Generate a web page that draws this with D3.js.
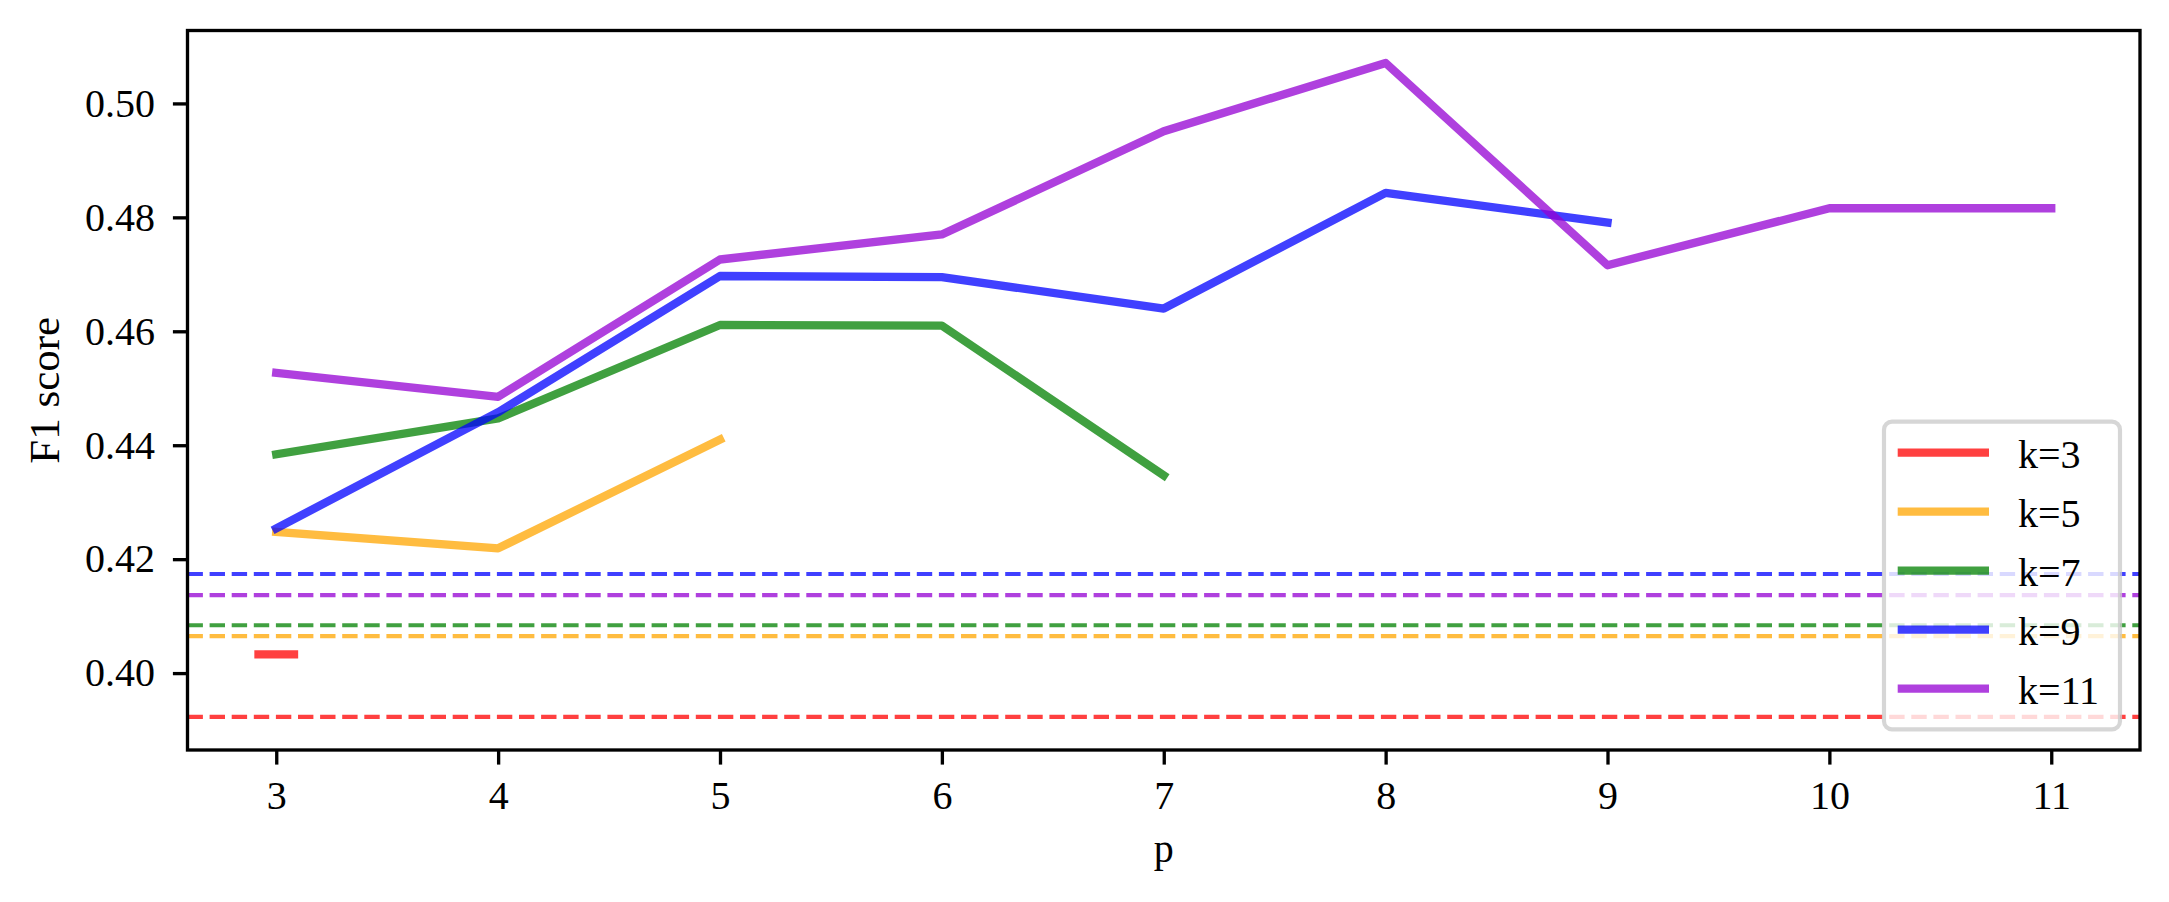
<!DOCTYPE html>
<html>
<head>
	<meta charset="utf-8">
	<title>F1 score vs p</title>
	<style>
		body { margin: 0; background: #fff; }
		svg text { font-family: "Liberation Serif", "Times New Roman", serif; fill: #000; }
	</style>
</head>
<body>
	<svg width="2169" height="902"></svg>
<script src="https://cdn.jsdelivr.net/npm/d3@7"></script>
<script>
	// 数据
	const ks = [3, 5, 7, 9, 11]
	const colors = ["#ff0000", "#ffa500", "#008000", "#0000ff", "#9400d3"]
	const xTicks = [3, 4, 5, 6, 7, 8, 9, 10, 11]
	const yTicks = [0.40, 0.42, 0.44, 0.46, 0.48, 0.50]

	const pK3 = [2.92, 3.08]
	const f1K3 = [0.4033, 0.4033]
	const pK5 = [3, 4, 5]
	const f1K5 = [0.4248, 0.4219, 0.4410]
	const pK7 = [3, 4, 5, 6, 7]
	const f1K7 = [0.4384, 0.4447, 0.4611, 0.4610, 0.4347]
	const pK9 = [3, 4, 5, 6, 7, 8, 9]
	const f1K9 = [0.4254, 0.4458, 0.4697, 0.4695, 0.4640, 0.4843, 0.4791]
	const pK11 = [3, 4, 5, 6, 7, 8, 9, 10, 11]
	const f1K11 = [0.4527, 0.4485, 0.4726, 0.4770, 0.4951, 0.5071, 0.4716, 0.4816, 0.4816]

	// 虚线基准
	const baselines = [0.3923, 0.4065, 0.4084, 0.4174, 0.4137]

	const series = [
		{ p: pK3, f1: f1K3 },
		{ p: pK5, f1: f1K5 },
		{ p: pK7, f1: f1K7 },
		{ p: pK9, f1: f1K9 },
		{ p: pK11, f1: f1K11 }
	]

	const svg = d3.select("svg")
	const pLeft = 187.5, pRight = 2140, pTop = 30.5, pBottom = 750
	const fs = 40

	const x = d3.scaleLinear().domain([2.6, 11.4]).range([pLeft, pRight])
	const y = d3.scaleLinear().domain([0.3865, 0.5128]).range([pBottom, pTop])

	// 虚线
	svg.append("g").selectAll("line")
		.data(baselines)
		.join("line")
		.attr("x1", x.range()[0]).attr("x2", x.range()[1])
		.attr("y1", d => y(d)).attr("y2", d => y(d))
		.attr("stroke", (d, i) => colors[i])
		.attr("stroke-opacity", 0.75)
		.attr("stroke-width", 4.17)
		.attr("stroke-dasharray", "15.4,6.7")

	// 折线
	const line = d3.line().x(d => x(d[0])).y(d => y(d[1]))
	svg.append("g").selectAll("path")
		.data(series)
		.join("path")
		.attr("d", s => line(d3.zip(s.p, s.f1)))
		.attr("fill", "none")
		.attr("stroke", (d, i) => colors[i])
		.attr("stroke-opacity", 0.75)
		.attr("stroke-width", 8.33)
		.attr("stroke-linecap", "square")
		.attr("stroke-linejoin", "round")

	// 坐标轴
	const gx = svg.append("g")
		.attr("transform", `translate(0, ${pBottom})`)
		.call(d3.axisBottom(x).tickValues(xTicks).tickSize(14.6).tickPadding(16).tickFormat(d3.format("d")))
	const gy = svg.append("g")
		.attr("transform", `translate(${pLeft}, 0)`)
		.call(d3.axisLeft(y).tickValues(yTicks).tickSize(14.6).tickPadding(17.9).tickFormat(d3.format(".2f")))
	for (const g of [gx, gy]) {
		g.select(".domain").remove()
		g.selectAll(".tick line").attr("stroke", "#000").attr("stroke-width", 3.33)
		g.selectAll("text").attr("font-size", fs).attr("font-family", null)
	}

	// 边框
	svg.append("rect")
		.attr("x", pLeft).attr("y", pTop)
		.attr("width", pRight - pLeft).attr("height", pBottom - pTop)
		.attr("fill", "none").attr("stroke", "#000").attr("stroke-width", 3.33)

	// 轴标题
	svg.append("text").text("p")
		.attr("x", (pLeft + pRight) / 2).attr("y", 862)
		.attr("text-anchor", "middle").attr("font-size", fs)
	svg.append("text").text("F1 score")
		.attr("transform", `translate(59, ${(pTop + pBottom) / 2}) rotate(-90)`)
		.attr("text-anchor", "middle").attr("font-size", 43)

	// 图例
	const lg = svg.append("g").attr("transform", `translate(${pRight - 256}, ${pBottom - 328.3})`)
	lg.append("rect")
		.attr("width", 236).attr("height", 307.6)
		.attr("rx", 8).attr("ry", 8)
		.attr("fill", "#fff").attr("fill-opacity", 0.8)
		.attr("stroke", "#ccc").attr("stroke-opacity", 0.8).attr("stroke-width", 4.17)
	const items = lg.selectAll("g.item")
		.data(ks)
		.join("g")
		.attr("class", "item")
		.attr("transform", (d, i) => `translate(0, ${31 + i * 59})`)
	items.append("line")
		.attr("x1", 13.7).attr("x2", 105)
		.attr("stroke", (d, i) => colors[i])
		.attr("stroke-opacity", 0.75)
		.attr("stroke-width", 8.33)
	items.append("text")
		.text(d => `k=${d}`)
		.attr("x", 134).attr("dy", "0.38em")
		.attr("font-size", fs)
</script>
</body>
</html>
